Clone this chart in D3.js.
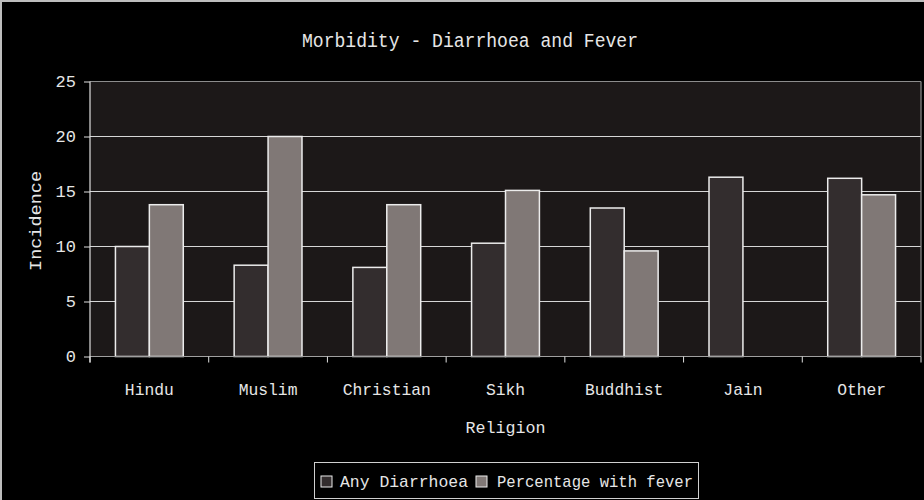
<!doctype html>
<html>
  <head>
    <script src="https://cdnjs.cloudflare.com/ajax/libs/d3/7.8.5/d3.min.js"></script>
    <style>
      body { margin: 0; background: #000; }
      text { font-family: "Liberation Mono", "Courier New", monospace; fill: #e6e6e6; }
    </style>
  </head>
  <body>
    <svg width="924" height="500"></svg>

    <script>
        // data
        var religions = ["Hindu", "Muslim", "Christian", "Sikh", "Buddhist", "Jain", "Other"];
        var seriesNames = ["Any Diarrhoea", "Percentage with fever"];
        var anyDiarrhoea = [10.0, 8.3, 8.1, 10.3, 13.5, 16.3, 16.2];
        var withFever = [13.8, 20.0, 13.8, 15.1, 9.6, 0, 14.7];
        var yTicks = [0, 5, 10, 15, 20, 25];

        var colors = ["#332d2e", "#807876"];

        var svg = d3.select("svg");
        var plot = {left: 90, right: 921, top: 81.5, bottom: 356.5};

        // outer frame (only top/left edges show in the reference)
        svg.append("line").attr("x1", 0).attr("x2", 924).attr("y1", 1).attr("y2", 1)
          .attr("stroke", "#bdbdbd").attr("stroke-width", 2);
        svg.append("line").attr("x1", 1).attr("x2", 1).attr("y1", 0).attr("y2", 500)
          .attr("stroke", "#bdbdbd").attr("stroke-width", 2);

        var x = d3.scaleBand().domain(religions).range([plot.left, plot.right]);
        var xSub = d3.scaleBand().domain(seriesNames).range([0, x.bandwidth()])
          .paddingInner(0).paddingOuter(0.75);
        var y = d3.scaleLinear().domain([0, 25]).range([plot.bottom, plot.top]);

        // plot area background
        svg.append("rect")
          .attr("x", plot.left).attr("y", plot.top)
          .attr("width", plot.right - plot.left).attr("height", plot.bottom - plot.top)
          .attr("fill", "#1c1818");

        // gridlines
        svg.append("g").selectAll("line")
          .data(yTicks.filter(t => t > 0 && t < 25))
          .enter().append("line")
          .attr("x1", plot.left).attr("x2", plot.right)
          .attr("y1", d => y(d)).attr("y2", d => y(d))
          .attr("stroke", "#d6d6d6").attr("stroke-width", 1);

        // plot border top/right
        svg.append("line").attr("x1", plot.left).attr("x2", plot.right)
          .attr("y1", y(25)).attr("y2", y(25)).attr("stroke", "#8c8c8c").attr("stroke-width", 1.2);
        svg.append("line").attr("x1", plot.right).attr("x2", plot.right)
          .attr("y1", plot.top).attr("y2", plot.bottom).attr("stroke", "#8c8c8c").attr("stroke-width", 1.2);

        // bars
        var rows = religions.map((r, i) => ({religion: r, values: [
          {name: seriesNames[0], value: anyDiarrhoea[i]},
          {name: seriesNames[1], value: withFever[i]}
        ]}));

        svg.append("g").selectAll("g")
          .data(rows)
          .enter().append("g")
          .attr("transform", d => "translate(" + x(d.religion) + ",0)")
          .selectAll("rect")
          .data(d => d.values.filter(v => v.value > 0))
          .enter().append("rect")
          .attr("x", d => xSub(d.name))
          .attr("width", xSub.bandwidth())
          .attr("y", d => y(d.value))
          .attr("height", d => y(0) - y(d.value))
          .attr("fill", d => colors[seriesNames.indexOf(d.name)])
          .attr("stroke", "#ececec")
          .attr("stroke-width", 1.5);

        // x axis
        var xAxis = svg.append("g").attr("transform", "translate(0," + plot.bottom + ")");
        xAxis.append("line").attr("x1", plot.left).attr("x2", plot.right)
          .attr("stroke", "#a0a0a0").attr("stroke-width", 1.2);
        xAxis.selectAll("line.tick")
          .data(religions.concat(["end"]))
          .enter().append("line").attr("class", "tick")
          .attr("x1", (d, i) => i < religions.length ? x(d) : plot.right)
          .attr("x2", (d, i) => i < religions.length ? x(d) : plot.right)
          .attr("y1", 0).attr("y2", 6)
          .attr("stroke", "#e0e0e0");
        xAxis.selectAll("text")
          .data(religions)
          .enter().append("text")
          .attr("x", d => x(d) + x.bandwidth() / 2)
          .attr("y", 38)
          .attr("text-anchor", "middle")
          .attr("font-size", 17)
          .attr("textLength", d => d.length * 9.8)
          .attr("lengthAdjust", "spacingAndGlyphs")
          .text(d => d);

        // y axis
        var yAxis = d3.axisLeft(y).tickValues(yTicks).tickSize(6).tickPadding(8);
        var yg = svg.append("g").attr("transform", "translate(" + plot.left + ",0)").call(yAxis);
        yg.select(".domain").attr("stroke", "#e0e0e0").attr("stroke-width", 1.2)
          .attr("d", "M0," + (plot.top) + "V" + (plot.bottom + 6));
        yg.selectAll(".tick line").attr("stroke", "#e0e0e0");
        yg.selectAll(".tick text")
          .attr("font-family", "Liberation Mono, monospace")
          .attr("font-size", 17).attr("fill", "#e6e6e6");

        // title and axis titles
        svg.append("text")
          .attr("x", 470).attr("y", 47)
          .attr("text-anchor", "middle")
          .attr("font-size", 20)
          .attr("textLength", 336).attr("lengthAdjust", "spacingAndGlyphs")
          .text("Morbidity - Diarrhoea and Fever");

        svg.append("text")
          .attr("x", (plot.left + plot.right) / 2).attr("y", 433)
          .attr("text-anchor", "middle")
          .attr("font-size", 17)
          .attr("textLength", 80).attr("lengthAdjust", "spacingAndGlyphs")
          .text("Religion");

        svg.append("text")
          .attr("transform", "translate(41," + 221 + ") rotate(-90)")
          .attr("text-anchor", "middle")
          .attr("font-size", 17)
          .attr("textLength", 100).attr("lengthAdjust", "spacingAndGlyphs")
          .text("Incidence");

        // legend
        var legend = svg.append("g");
        legend.append("rect")
          .attr("x", 314.5).attr("y", 462.5).attr("width", 384).attr("height", 36)
          .attr("fill", "#000").attr("stroke", "#d0d0d0").attr("stroke-width", 1);
        var legendX = [321, 476];
        var legendItems = legend.selectAll("g.item")
          .data(seriesNames)
          .enter().append("g").attr("class", "item")
          .attr("transform", (d, i) => "translate(" + legendX[i] + ",476)");
        legendItems.append("rect")
          .attr("width", 11).attr("height", 11)
          .attr("fill", (d, i) => colors[i])
          .attr("stroke", "#ececec").attr("stroke-width", 1);
        legendItems.append("text")
          .attr("x", (d, i) => i === 0 ? 19 : 21)
          .attr("y", 11)
          .attr("font-size", 17)
          .attr("textLength", (d, i) => i === 0 ? 128 : 196)
          .attr("lengthAdjust", "spacingAndGlyphs")
          .text(d => d);
    </script>
  </body>
</html>
